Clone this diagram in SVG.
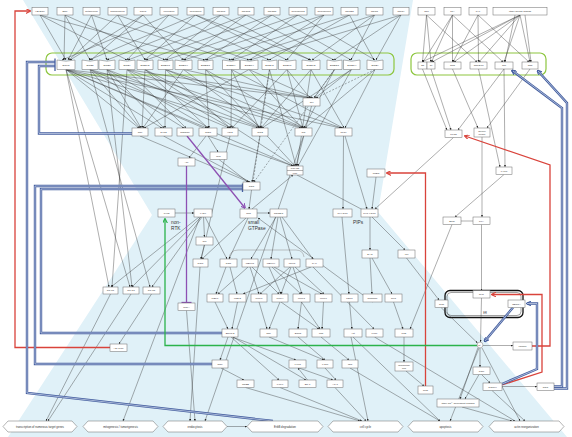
<svg xmlns="http://www.w3.org/2000/svg" width="572" height="437" viewBox="0 0 572 437">
<defs>
<style>
.n rect,.n path,.n polygon{fill:#fff;stroke:#6a6a6a;stroke-width:.5}
.n text{font-family:"Liberation Sans",Arial,sans-serif;font-size:2.5px;fill:#333;text-anchor:middle}
.h text{font-size:2.8px}
.lab{font-family:"Liberation Sans",Arial,sans-serif;font-size:4.8px;fill:#333}
.e path{fill:none;stroke:#333;stroke-width:.4;marker-end:url(#a)}
.e .d{stroke-dasharray:2 1.5}
.e .p{marker-end:none}
.red{fill:none;stroke:#d9433b;stroke-width:1.3;marker-end:url(#ar)}
.bo{fill:none;stroke:#455fa0;stroke-width:2.4}
.bm{marker-end:url(#ab)}
.bi{fill:none;stroke:#d3dcee;stroke-width:.7}
.pu{fill:none;stroke:#8d50b3;stroke-width:1.3}
.gr{fill:none;stroke:#2bb34b;stroke-width:1.3;marker-end:url(#ag)}
.box{fill:none;stroke:#8dc63f;stroke-width:1.2}
</style>
<marker id="a" viewBox="0 0 4 4" markerWidth="2" markerHeight="2" refX="4" refY="2" orient="auto" markerUnits="userSpaceOnUse"><path d="M0 0L4 2L0 4z" fill="#222"/></marker>
<marker id="ar" viewBox="0 0 4 4" markerWidth="5" markerHeight="5" refX="3.5" refY="2" orient="auto" markerUnits="userSpaceOnUse"><path d="M0 0L4 2L0 4" fill="none" stroke="#d9433b" stroke-width=".9"/></marker>
<marker id="ab" viewBox="0 0 4 4" markerWidth="5" markerHeight="5" refX="3.5" refY="2" orient="auto" markerUnits="userSpaceOnUse"><path d="M0 0L4 2L0 4" fill="none" stroke="#455fa0" stroke-width=".9"/></marker>
<marker id="ag" viewBox="0 0 4 4" markerWidth="5" markerHeight="5" refX="3.5" refY="2" orient="auto" markerUnits="userSpaceOnUse"><path d="M0 0L4 2L0 4" fill="none" stroke="#2bb34b" stroke-width=".9"/></marker>
<marker id="ap" viewBox="0 0 4 4" markerWidth="5" markerHeight="5" refX="3.5" refY="2" orient="auto" markerUnits="userSpaceOnUse"><path d="M0 0L4 2L0 4" fill="none" stroke="#8d50b3" stroke-width=".9"/></marker>
</defs>
<rect width="572" height="437" fill="#fff"/>
<polygon points="23,0 413,0 378,212 567,437 8,437 152,215" fill="#e0f1f8"/>
<rect class="box" x="46" y="53" width="348" height="22" rx="6"/>
<rect class="box" x="411" y="53" width="135" height="22" rx="6"/>
<path d="M229 258.5Q230 250 238 250H296Q303 250 304 257" fill="none" stroke="#9a9a9a" stroke-width=".6"/>
<rect x="445" y="290.5" width="78" height="27" rx="5" fill="none" stroke="#111" stroke-width="1.3"/>
<rect x="447" y="292.5" width="74" height="23" rx="4" fill="none" stroke="#111" stroke-width=".4"/>

<g id="connectors">
<g class="e">
<path d="M40 15L66 60"/><path d="M40 15L127 60"/><path d="M40 15L205 60"/>
<path d="M65 15L64 60"/><path d="M65 15L90 60"/><path d="M65 15L165 60"/>
<path d="M91.5 15L68 60"/><path d="M91.5 15L107 60"/><path d="M91.5 15L231 60"/>
<path d="M117.5 15L69 60"/><path d="M117.5 15L145 60"/><path d="M117.5 15L249 60"/>
<path d="M143 15L70 60"/><path d="M143 15L91 60"/><path d="M143 15L183 60"/>
<path d="M169 15L62 60"/><path d="M169 15L127 60"/><path d="M169 15L269 60"/>
<path d="M195.5 15L89 60"/><path d="M195.5 15L145 60"/><path d="M195.5 15L287 60"/><path d="M195.5 15L311 60"/>
<path d="M221 15L107 60"/><path d="M221 15L165 60"/><path d="M221 15L310 60"/>
<path d="M246 15L128 60"/><path d="M246 15L183 60"/><path d="M246 15L334 60"/>
<path d="M272 15L146 60"/><path d="M272 15L205 60"/><path d="M272 15L351 60"/>
<path d="M298 15L166 60"/><path d="M298 15L231 60"/><path d="M298 15L375 60"/>
<path d="M324 15L184 60"/><path d="M324 15L249 60"/><path d="M324 15L287 60"/>
<path d="M349.5 15L206 60"/><path d="M349.5 15L269 60"/><path d="M349.5 15L374 60"/>
<path d="M374.5 15L232 60"/><path d="M374.5 15L312 60"/><path d="M374.5 15L351 60"/>
<path d="M401 15L250 60"/><path d="M401 15L334 60"/><path d="M401 15L376 60"/>
<path d="M66 69.5L139 128"/><path d="M66 69.5L162 128"/><path d="M66 69.5L207 128"/><path d="M66 69.5L258 128"/><path d="M66 69.5L309 98"/><path d="M66 69.5L341 128"/><path d="M66 69.5L109 287"/><path d="M66 69.5L130 287"/><path d="M66 69.5L293 166"/>
<path d="M90 69.5L140 128"/><path d="M90 69.5L184 128"/><path d="M90 69.5L229 128"/><path d="M90 69.5L301 128"/><path d="M90 69.5L150 287"/>
<path d="M107 69.5L141 128"/><path d="M107 69.5L164 128"/><path d="M107 69.5L209 128"/><path d="M107 69.5L260 128"/><path d="M107 69.5L132 287"/>
<path d="M127 69.5L186 128"/><path d="M127 69.5L231 128"/><path d="M127 69.5L303 128"/><path d="M127 69.5L311 98"/><path d="M127 69.5L112 287"/>
<path d="M145 69.5L142 128"/><path d="M145 69.5L208 128"/><path d="M145 69.5L261 128"/><path d="M145 69.5L294 166"/>
<path d="M165.5 69.5L165 128"/><path d="M165.5 69.5L230 128"/><path d="M165.5 69.5L304 128"/><path d="M165.5 69.5L342 128"/>
<path d="M183.5 69.5L143 128"/><path d="M183.5 69.5L262 128"/><path d="M183.5 69.5L312 98"/>
<path d="M205.5 69.5L209 128"/><path d="M205.5 69.5L305 128"/><path d="M205.5 69.5L295 166"/>
<path d="M231.5 69.5L231 128"/><path d="M231.5 69.5L259 128"/><path d="M231.5 69.5L343 128"/>
<path d="M249 69.5L144 128"/><path d="M249 69.5L302 128"/><path d="M249 69.5L313 98"/>
<path d="M269.5 69.5L260 128"/><path d="M269.5 69.5L296 166"/><path class="d" d="M269.5 69.5L253 182"/>
<path d="M287 69.5L232 128"/><path d="M287 69.5L303 128"/><path d="M287 69.5L310 98"/>
<path d="M311 69.5L261 128"/><path d="M311 69.5L344 128"/><path d="M311 69.5L297 166"/>
<path d="M334.5 69.5L304 128"/><path d="M334.5 69.5L314 98"/><path class="d" d="M334.5 69.5L254 182"/>
<path d="M351.5 69.5L262 128"/><path d="M351.5 69.5L298 166"/><path d="M351.5 69.5L315 98"/>
<path d="M375 69.5L305 128"/><path class="d" d="M375 69.5L316 98"/><path d="M375 69.5L345 128"/>
<path d="M426.5 15L422.5 62"/><path d="M426.5 15L431 62"/><path d="M426.5 15L477 62"/>
<path d="M452.5 15L423 62"/><path d="M452.5 15L431.5 62"/><path d="M452.5 15L452.5 62"/><path d="M452.5 15L503 62"/>
<path d="M478 15L453 62"/><path d="M478 15L478.5 62"/><path d="M478 15L529 62"/>
<path d="M520 15L422 62"/><path d="M520 15L432 62"/><path d="M520 15L454 62"/><path d="M520 15L479 62"/><path d="M520 15L504 62"/><path d="M520 15L530 62"/><path d="M515 15L505 62"/><path d="M525 15L531 62"/>
<path d="M431 69L451 130"/><path d="M422.5 69L447 130"/><path d="M504 69L458 130"/>
<path d="M452.5 69L478 128"/><path d="M530 69L487 128"/>
<path d="M478.5 69L500 167"/><path d="M504 69L505 167"/>
<path d="M453.5 137.5L375 209"/><path d="M482 137L482 217"/><path d="M504 174.5L455 217"/>
<path class="p" d="M461 221H473"/>
<path d="M452 224.5L410 329"/><path d="M481.5 224.5V290.5"/>
<path d="M406.5 258L439 300"/><path d="M441 307.5L477.5 343"/><path d="M481.5 298L480.5 342"/>
<path d="M370 217L370 250"/><path d="M372 217L405 250"/><path d="M376 177L372 209"/>
<path d="M342 217L349 294"/>
<path d="M370 258L372 294"/><path d="M372 258L392 294"/>
<path d="M393.5 302L403 329"/><path d="M404 337V362"/><path d="M406 371L424 386"/>
<path d="M349.5 302L352 329"/><path d="M353 337L440 421"/><path d="M351 337L368 421"/><path d="M374.5 337L515 421"/>
<path d="M372.5 302L258 218"/>
<path d="M480 348V367"/><path d="M483 345.5H513"/><path d="M478 347.5L460 399"/><path d="M479 348L450 421"/><path d="M482 348L520 421"/>
<path d="M481.5 374.5L490 383"/><path d="M479 374.5L465 399"/><path d="M492 390.5L525 421"/><path d="M502 386.5H537"/><path d="M462 407L512 421"/>
<path d="M140 136L249 182"/><path d="M163.5 136L250 182"/><path d="M260 136L252 182"/>
<path d="M208 136L293 166"/><path d="M208 136L218 152"/><path d="M206 136L189 158"/>
<path d="M230 136L201 259"/><path d="M303.5 136L205 421"/><path d="M311.5 106L296 166"/>
<path d="M343.5 136L343 209"/><path d="M345 136L367 209"/><path d="M297 175L363 210"/>
<path d="M252 209L293 175"/><path d="M251.5 190L249 209"/><path d="M219 159.5L248 182"/>
<path d="M175 213H194"/>
<path d="M199 217L111 287"/><path d="M201 217L132 287"/><path d="M202 217L152 287"/>
<path d="M203.5 217L204.5 237"/><path d="M205 217L227 259"/><path d="M200 217L123 421"/>
<path d="M204.5 245L201 259"/><path d="M246 218L202 259"/><path d="M248 218L229 259"/><path d="M257 213H270"/>
<path d="M276 217L251 259"/><path d="M278 217L271 259"/><path d="M280 217L292 259"/><path d="M282 217L313 259"/>
<path d="M200 267L190 421"/>
<path d="M226 267L216 294"/><path d="M230 267L237 294"/>
<path d="M248 267L218 294"/><path d="M250 267L259 294"/><path d="M252 267L279 294"/>
<path d="M269 267L281 294"/><path d="M272 267L301 294"/><path d="M274 267L322 294"/>
<path d="M290 267L260 294"/><path d="M291 267L281 294"/><path d="M293 267L302 294"/><path d="M295 267L324 294"/>
<path d="M313 267L374 329"/><path d="M311 267L243 294"/>
<path d="M215 302L228 329"/><path d="M237.5 302L232 329"/>
<path d="M259 302L267 329"/><path d="M280 302L269 329"/><path d="M281 302L319 329"/>
<path d="M301.5 302L298 329"/><path d="M301.5 302L320 329"/><path d="M323.5 302L322 329"/>
<path d="M228 337L220 360"/><path d="M232 337L296 360"/><path d="M233 337L306 380"/><path d="M231 337L279 380"/>
<path d="M269 337L324 360"/><path d="M298 337L325 360"/><path d="M321 337L349 360"/>
<path d="M221 368L244 380"/><path d="M245.5 387.5L360 421"/><path d="M280 387.5L362 421"/>
<path d="M307.5 380L298 368"/><path d="M299 368L333 380"/><path d="M325 368L336 380"/><path d="M335 387.5L366 421"/>
<path d="M350 368L440 421"/>
<path d="M110.5 294L46 421"/><path d="M131 294L48 421"/><path d="M151.5 294L119 344"/>
<path d="M186.5 310.5L195 421"/><path d="M227 426.5H247"/>
</g>
<path class="red" d="M110 347.5H15V11H30"/>
<path class="red" d="M425.5 386V173H387"/>
<path class="red" d="M532 346H550V165L465 136"/>
<path class="red" d="M502 385L542 372V294.5H492"/>
<path class="bo" d="M273 421L27 393V62H55"/><path class="bi" d="M273 421L27 393V62H55"/>
<path class="bo" d="M132 133.5H39V66H55"/><path class="bi" d="M132 133.5H39V66H55"/>
<path class="bo" d="M222 333H41V189H242"/><path class="bi" d="M222 333H41V189H242"/>
<path class="bo" d="M212 364H35V186H242"/><path class="bi" d="M212 364H35V186H242"/>
<path class="bo bm" d="M502 384L537 369V303.5H527"/><path class="bi" d="M502 384L537 369V303.5H527"/>
<path class="bo bm" d="M513 307.5L484.5 341.5"/><path class="bi" d="M513 307.5L485 341"/>
<path class="bo bm" d="M554 386.5H562V108L512 70.5"/><path class="bi" d="M554 386.5H562V108L513 71"/>
<path class="bo bm" d="M554 388.5H567V103L537.5 70.5"/><path class="bi" d="M554 388.5H567V103L538 71"/>
<path d="M55 58.5V71" stroke="#455fa0" stroke-width="1.3"/>
<path d="M242.5 183.5V192" stroke="#455fa0" stroke-width="1.3"/>
<path class="pu" d="M187 136L245 208" marker-end="url(#ap)"/>
<path class="pu" d="M186.5 166V302.5"/>
<path d="M181.5 302.5H191.5" stroke="#8d50b3" stroke-width="1.3"/>
<path class="gr" d="M477 345.5H165V219"/>
</g>

<g id="ligands" class="n">
<g id="n-hbegf"><rect x="32" y="7.5" width="16" height="7.5"/><text x="40" y="12.1">HB-EGF</text></g>
<g id="n-egf"><rect x="57" y="7.5" width="16" height="7.5"/><text x="65" y="12.1">EGF</text></g>
<g id="n-btc"><rect x="83" y="7.5" width="17" height="7.5"/><text x="91.5" y="12.1">betacellulin</text></g>
<g id="n-areg"><rect x="108" y="7.5" width="19" height="7.5"/><text x="117.5" y="12.1">amphiregulin</text></g>
<g id="n-tgfa"><rect x="134" y="7.5" width="18" height="7.5"/><text x="143" y="12.1">TGFα</text></g>
<g id="n-ereg"><rect x="160" y="7.5" width="18" height="7.5"/><text x="169" y="12.1">epiregulin</text></g>
<g id="n-nrg"><rect x="187" y="7.5" width="17" height="7.5"/><text x="195.5" y="12.1">neuregulin</text></g>
<g id="n-nrg1a"><rect x="213" y="7.5" width="16" height="7.5"/><text x="221" y="12.1">NRG1α</text></g>
<g id="n-nrg1b"><rect x="238" y="7.5" width="16" height="7.5"/><text x="246" y="12.1">NRG1β</text></g>
<g id="n-nrg2a"><rect x="264" y="7.5" width="16" height="7.5"/><text x="272" y="12.1">NRG2α</text></g>
<g id="n-nrg2"><rect x="289" y="7.5" width="18" height="7.5"/><text x="298" y="12.1">neuregulin2</text></g>
<g id="n-nrg3"><rect x="315" y="7.5" width="18" height="7.5"/><text x="324" y="12.1">neuregulin3</text></g>
<g id="n-nrg2b"><rect x="341" y="7.5" width="17" height="7.5"/><text x="349.5" y="12.1">NRG2β</text></g>
<g id="n-nrg3b"><rect x="366" y="7.5" width="17" height="7.5"/><text x="374.5" y="12.1">NRG3</text></g>
<g id="n-nrg4"><rect x="393" y="7.5" width="16" height="7.5"/><text x="401" y="12.1">NRG4</text></g>
<g id="n-s1p"><rect x="418" y="7.5" width="17" height="7.5"/><text x="426.5" y="12.1">S1P</text></g>
<g id="n-lpa"><rect x="444" y="7.5" width="17" height="7.5"/><text x="452.5" y="12.1">LPA</text></g>
<g id="n-paf"><rect x="469" y="7.5" width="18" height="7.5"/><text x="478" y="12.1">PAF</text></g>
<g id="n-ogpcr"><rect x="493" y="7.5" width="54" height="7.5"/><text x="520" y="12.1">other GPCR ligands</text></g>
</g>

<g id="receptors" class="n">
<g id="n-r1"><path d="M57 60L66 61.2L75 60V69.5H57Z"/><text x="66" y="66">EGFR</text></g>
<g id="n-r2"><path d="M82 60L90 61.2L98 60V69.5H82Z"/><text x="90" y="66">ErbB2</text></g>
<g id="n-r3"><path d="M99 60L107 61.2L115 60V69.5H99Z"/><text x="107" y="66">ErbB3</text></g>
<g id="n-r4"><path d="M119 60L127 61.2L135 60V69.5H119Z"/><text x="127" y="66">ErbB4</text></g>
<g id="n-r5"><path d="M137 60L145 61.2L153 60V69.5H137Z"/><text x="145" y="66">ErbB1/2</text></g>
<g id="n-r6"><path d="M158 60L165.5 61.2L173 60V69.5H158Z"/><text x="165.5" y="66">ErbB1/3</text></g>
<g id="n-r7"><path d="M175 60L183.5 61.2L192 60V69.5H175Z"/><text x="183.5" y="66">ErbB1/4</text></g>
<g id="n-r8"><path d="M198 60L205.5 61.2L213 60V69.5H198Z"/><text x="205.5" y="66">ErbB2/3</text></g>
<g id="n-r9"><path d="M222.5 60L231 61.2L239.5 60V69.5H222.5Z"/><text x="231" y="66">ErbB2/4</text></g>
<g id="n-r10"><path d="M240.5 60L249.5 61.2L258 60V69.5H240.5Z"/><text x="249.3" y="66">ErbB3/4</text></g>
<g id="n-r11"><path d="M262 60L269.5 61.2L277 60V69.5H262Z"/><text x="269.5" y="66">ErbB4a</text></g>
<g id="n-r12"><path d="M278.5 60L287 61.2L296 60V69.5H278.5Z"/><text x="287.2" y="66">ErbB4b</text></g>
<g id="n-r13"><path d="M302 60L311 61.2L320 60V69.5H302Z"/><text x="311" y="66">ErbB1/2</text></g>
<g id="n-r14"><path d="M327 60L334.5 61.2L342 60V69.5H327Z"/><text x="334.5" y="66">ErbB2/3</text></g>
<g id="n-r15"><path d="M343.5 60L351.8 61.2L360 60V69.5H343.5Z"/><text x="351.8" y="66">ErbB3/4</text></g>
<g id="n-r16"><path d="M367 60L375 61.2L383 60V69.5H367Z"/><text x="375" y="66">ErbB4</text></g>
<g id="n-g1"><rect x="418" y="62" width="9" height="7"/><text x="422.5" y="66.4">Gs</text></g>
<g id="n-g2"><rect x="427" y="62" width="8" height="7"/><text x="431" y="66.4">Gi</text></g>
<g id="n-g3"><rect x="444" y="62" width="17" height="7"/><text x="452.5" y="66.4">Gαq</text></g>
<g id="n-g4"><rect x="470" y="62" width="17" height="7"/><text x="478.5" y="66.4">Gα12/13</text></g>
<g id="n-g5"><rect x="495" y="62" width="18" height="7"/><text x="504" y="66.4">Gαi</text></g>
<g id="n-g6"><rect x="522" y="62" width="16" height="7"/><text x="530" y="66.4">Gαs</text></g>
</g>

<g id="nodes" class="n">
<g id="n-shc"><rect x="132" y="128" width="16" height="8"/><text x="140" y="132.9">Shc</text></g>
<g id="n-shp2"><rect x="155" y="128" width="17" height="8"/><text x="163.5" y="132.9">SHP2</text></g>
<g id="n-rasgrf"><rect x="177" y="128" width="16" height="8"/><text x="185" y="132.9">RasGRF</text></g>
<g id="n-gab1"><rect x="199" y="128" width="18" height="8"/><text x="208" y="132.9">Gab1</text></g>
<g id="n-vav2"><rect x="222" y="128" width="16" height="8"/><text x="230" y="132.9">Vav2</text></g>
<g id="n-grb2"><rect x="252" y="128" width="16" height="8"/><text x="260" y="132.9">Grb2</text></g>
<g id="n-cbl"><rect x="295" y="128" width="17" height="8"/><text x="303.5" y="132.9">Cbl</text></g>
<g id="n-plcg"><rect x="335" y="128" width="17" height="8"/><text x="343.5" y="132.9">PLCγ</text></g>
<g id="n-src"><rect x="303" y="98" width="17" height="8"/><text x="311.5" y="102.9">Src</text></g>
<g id="n-pi3k"><rect x="287" y="166" width="16" height="9"/><path d="M287 170.5H303"/><text x="295" y="169.2" style="font-size:2.1px">PI3K p85</text><text x="295" y="173.7" style="font-size:2.1px">p110</text></g>
<g id="n-nck"><rect x="210" y="152" width="17" height="7.5"/><text x="218.5" y="156.6">Nck</text></g>
<g id="n-abl"><rect x="178" y="158" width="17" height="8"/><text x="186.5" y="162.9">Abl</text></g>
<g id="n-sos"><rect x="243" y="182" width="17" height="8"/><text x="251.5" y="186.9">SOS</text></g>
<g id="n-pyk2"><rect x="158" y="209" width="17" height="8"/><text x="166.5" y="213.9">Pyk2</text></g>
<g id="n-csrc"><rect x="194" y="209" width="18" height="8"/><text x="203" y="213.9">c-Src</text></g>
<g id="n-ras"><rect x="240" y="209" width="17" height="9"/><text x="248.5" y="214.4">Ras</text></g>
<g id="n-ralgds"><rect x="270" y="209" width="17" height="8"/><text x="278.5" y="213.9">RalGDS</text></g>
<g id="n-crk"><rect x="196" y="237" width="17" height="8"/><text x="204.5" y="241.9">Crk</text></g>
<g id="n-pip2"><rect x="333" y="209" width="19" height="8"/><text x="342.5" y="213.9">PI(4,5)P₂</text></g>
<g id="n-pip3"><rect x="361" y="209" width="17" height="8"/><text x="369.5" y="213.9">PI(3,4,5)P₃</text></g>
<g id="n-pten"><rect x="367" y="169" width="18" height="8"/><text x="376" y="173.9">PTEN</text></g>
<g id="n-plcb"><rect x="445" y="130" width="17" height="7.5"/><text x="453.5" y="134.6">PLCβ</text></g>
<g id="n-ac"><rect x="474" y="128" width="16" height="9"/><text x="482" y="131.8" style="font-size:2.1px">adenylyl</text><text x="482" y="135.3" style="font-size:2.1px">cyclase</text></g>
<g id="n-camp"><rect x="496" y="167" width="16" height="7.5"/><text x="504" y="171.6">cAMP</text></g>
<g id="n-epac"><rect x="443" y="217" width="18" height="7.5"/><text x="452" y="221.6">Epac</text></g>
<g id="n-pka"><rect x="473" y="217" width="17" height="7.5"/><text x="481.5" y="221.6">PKA</text></g>
<g id="n-dag"><rect x="362" y="250" width="16" height="8"/><text x="370" y="254.9">DAG</text></g>
<g id="n-ip3"><rect x="398" y="250" width="17" height="8"/><text x="406.5" y="254.9">IP₃</text></g>
<g id="n-rac1"><rect x="193" y="259" width="15" height="8"/><text x="200.5" y="263.9">Rac1</text></g>
<g id="n-raf1"><rect x="220" y="259" width="17" height="8"/><text x="228.5" y="263.9">Raf1</text></g>
<g id="n-mekk1"><rect x="242" y="259" width="16" height="8"/><text x="250" y="263.9">MEKK1</text></g>
<g id="n-mekk4"><rect x="263" y="259" width="16" height="8"/><text x="271" y="263.9">MEKK4</text></g>
<g id="n-mlk3"><rect x="284" y="259" width="16" height="8"/><text x="292" y="263.9">MLK3</text></g>
<g id="n-pak"><rect x="306" y="259" width="17" height="8"/><text x="314.5" y="263.9">PAK</text></g>
<g id="n-mek1"><rect x="207" y="294" width="16" height="8"/><text x="215" y="298.9">MEK1</text></g>
<g id="n-mek2"><rect x="229" y="294" width="17" height="8"/><text x="237.5" y="298.9">MEK2</text></g>
<g id="n-mkk7"><rect x="251" y="294" width="16" height="8"/><text x="259" y="298.9">MKK7</text></g>
<g id="n-mkk4"><rect x="272" y="294" width="16" height="8"/><text x="280" y="298.9">MKK4</text></g>
<g id="n-mkk3"><rect x="293" y="294" width="17" height="8"/><text x="301.5" y="298.9">MKK3</text></g>
<g id="n-mkk6"><rect x="315" y="294" width="17" height="8"/><text x="323.5" y="298.9">MKK6</text></g>
<g id="n-pdk1"><rect x="341" y="294" width="17" height="8"/><text x="349.5" y="298.9">PDK1</text></g>
<g id="n-rasgrp"><rect x="363" y="294" width="19" height="8"/><text x="372.5" y="298.9">RasGRP</text></g>
<g id="n-pkc"><rect x="385" y="294" width="17" height="8"/><text x="393.5" y="298.9">PKC</text></g>
<g id="n-erk"><rect x="222" y="329" width="16" height="8"/><text x="230" y="333.9">ERK1/2</text></g>
<g id="n-jnk"><rect x="260" y="329" width="17" height="8"/><text x="268.5" y="333.9">JNK</text></g>
<g id="n-erk5"><rect x="289" y="329" width="18" height="8"/><text x="298" y="333.9">ERK5</text></g>
<g id="n-p38"><rect x="312" y="329" width="18" height="8"/><text x="321" y="333.9">p38</text></g>
<g id="n-akt"><rect x="344" y="329" width="18" height="8"/><text x="353" y="333.9">Akt</text></g>
<g id="n-limk"><rect x="366" y="329" width="17" height="8"/><text x="374.5" y="333.9">LIMK</text></g>
<g id="n-pld"><rect x="395" y="329" width="18" height="8"/><text x="404" y="333.9">PLD</text></g>
<g id="n-rsk"><rect x="212" y="360" width="16" height="8"/><text x="220" y="364.9">RSK</text></g>
<g id="n-cfos"><rect x="289" y="360" width="17" height="8"/><text x="297.5" y="364.9">c-Fos</text></g>
<g id="n-cjun"><rect x="317" y="360" width="16" height="8"/><text x="325" y="364.9">c-Jun</text></g>
<g id="n-p53"><rect x="342" y="360" width="16" height="8"/><text x="350" y="364.9">p53</text></g>
<g id="n-pa"><rect x="395" y="362" width="18" height="9"/><text x="404" y="365.8" style="font-size:2.1px">phosphatidic</text><text x="404" y="369.3" style="font-size:2.1px">acid</text></g>
<g id="n-creb"><rect x="237" y="380" width="17" height="7.5"/><text x="245.5" y="384.6">CREB</text></g>
<g id="n-cmyc"><rect x="272" y="380" width="16" height="7.5"/><text x="280" y="384.6">c-Myc</text></g>
<g id="n-elk1"><rect x="299" y="380" width="17" height="7.5"/><text x="307.5" y="384.6">Elk-1</text></g>
<g id="n-ap1"><rect x="327" y="380" width="16" height="7.5"/><text x="335" y="384.6">AP-1</text></g>
<g id="n-pkd"><rect x="418" y="386" width="15" height="8"/><text x="425.5" y="390.9">PKD</text></g>
<g id="n-stat1"><rect x="103" y="287" width="15" height="7"/><text x="110.5" y="291.4">STAT1</text></g>
<g id="n-stat3"><rect x="123" y="287" width="16" height="7"/><text x="131" y="291.4">STAT3</text></g>
<g id="n-stat5"><rect x="143" y="287" width="17" height="7"/><text x="151.5" y="291.4">STAT5</text></g>
<g id="n-adam"><rect x="110" y="344" width="17" height="7.5"/><text x="118.5" y="348.6">ADAM17</text></g>
<g id="n-rhoa"><rect x="178" y="303" width="17" height="7.5"/><text x="186.5" y="307.6">RhoA</text></g>
<g id="n-ip3r"><rect x="435" y="300" width="13" height="7.5"/><text x="441.5" y="304.6">IP₃R</text></g>
<g id="n-ryr"><rect x="473" y="290.5" width="17" height="7.5"/><text x="481.5" y="295.1">RyR</text></g>
<g id="n-serca"><rect x="508" y="300" width="17" height="7.5"/><text x="516.5" y="304.6">SERCA</text></g>
<g id="n-er"><text x="485" y="314" style="font-size:2.6px">ER</text></g>
<g id="n-ca"><circle cx="480" cy="345" r="2.9" fill="#fff" stroke="#777" stroke-width=".5"/><text x="480" y="345.6" style="font-size:1.6px">Ca²⁺</text></g>
<g id="n-calpain"><rect x="513" y="342" width="19" height="8"/><text x="522.5" y="346.9">calpain</text></g>
<g id="n-cam"><rect x="473" y="367" width="17" height="7.5"/><text x="481.5" y="371.6">CaM</text></g>
<g id="n-camk"><rect x="483" y="383" width="19" height="7.5"/><text x="492.5" y="387.6">CaMKII</text></g>
<g id="n-rgs"><rect x="537" y="383" width="17" height="7.5"/><text x="545.5" y="387.6">RGS</text></g>
<g id="n-others"><rect x="437" y="399" width="42" height="8"/><text x="458" y="403.9">other Ca²⁺-dependent kinases</text></g>
</g>

<g id="outputs" class="n h">
<g id="o-trans"><polygon points="3,426.5 8,421 72,421 77,426.5 72,432 8,432"/><text x="40" y="427.5">transcription of numerous target genes</text></g>
<g id="o-mito"><polygon points="83,426.5 88,421 153,421 158,426.5 153,432 88,432"/><text x="120.5" y="427.5">mitogenesis / tumorigenesis</text></g>
<g id="o-endo"><polygon points="163,426.5 168,421 222,421 227,426.5 222,432 168,432"/><text x="195" y="427.5">endocytosis</text></g>
<g id="o-deg"><polygon points="247,426.5 252,421 318,421 323,426.5 318,432 252,432"/><text x="285" y="427.5">ErbB degradation</text></g>
<g id="o-cc"><polygon points="328,426.5 333,421 398,421 403,426.5 398,432 333,432"/><text x="365.5" y="427.5">cell cycle</text></g>
<g id="o-apo"><polygon points="408,426.5 413,421 478,421 483,426.5 478,432 413,432"/><text x="445.5" y="427.5">apoptosis</text></g>
<g id="o-actin"><polygon points="489,426.5 494,421 559,421 564,426.5 559,432 494,432"/><text x="526.5" y="427.5">actin reorganization</text></g>
</g>

<g id="labels">
<text class="lab" x="171" y="223.5">non-</text>
<text class="lab" x="171" y="229.5">RTK</text>
<text class="lab" x="248" y="224">small</text>
<text class="lab" x="248" y="230">GTPase</text>
<text class="lab" x="353" y="224">PIPs</text>
</g>
</svg>
